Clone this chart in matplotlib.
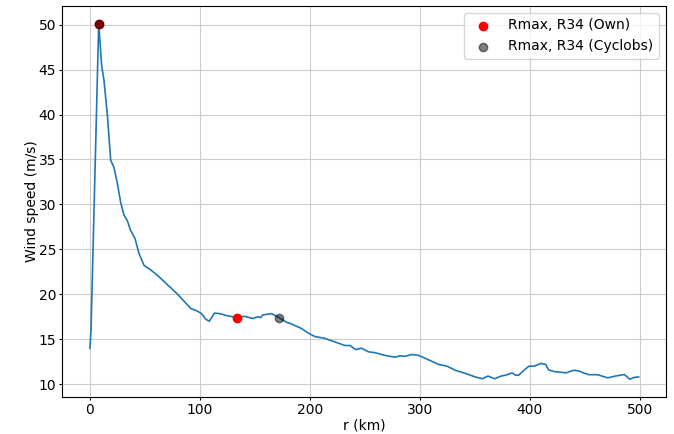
import matplotlib
matplotlib.use("Agg")
import matplotlib.pyplot as plt

# Radial wind-speed profile (r in km, wind speed in m/s)
r_km = [0, 1, 8, 10.7, 12.8, 15.9, 18.9, 21.9, 25, 28, 31, 34, 37, 41, 44.7,
        49.3, 55.4, 61.5, 67.6, 73.7, 79.8, 85.8, 91.9, 96.5, 101, 105.6,
        108.6, 113.2, 117.8, 125.4, 133.9, 140.6, 148.2, 152.8, 155, 157.4,
        165, 167.5, 172, 178.6, 183.2, 192.3, 198.4, 204.5, 213.6, 222.7,
        231.9, 236.5, 241.6, 247.1, 253.2, 259.3, 268.4, 277.5, 281.6, 286.6,
        292.7, 298.9, 308, 317.1, 324.7, 332.3, 341.4, 350.5, 356.7, 362,
        368, 374, 378, 384, 387, 390, 394.7, 399.3, 404, 410, 414.5, 417,
        422, 433, 440, 445, 450, 454, 461.6, 471, 478, 486, 491, 495, 499]
wind_ms = [14.0, 16.0, 50.1, 45.4, 43.8, 39.9, 34.9, 34.1, 32.3, 30.2, 28.8,
           28.2, 27.1, 26.2, 24.5, 23.2, 22.7, 22.1, 21.4, 20.7, 20.0, 19.2,
           18.4, 18.2, 17.9, 17.2, 17.0, 17.9, 17.85, 17.6, 17.4, 17.55, 17.3,
           17.5, 17.4, 17.7, 17.85, 17.7, 17.4, 16.9, 16.7, 16.2, 15.7, 15.3,
           15.1, 14.7, 14.3, 14.3, 13.85, 14.0, 13.6, 13.5, 13.2, 13.0, 13.15,
           13.1, 13.3, 13.2, 12.7, 12.2, 12.0, 11.55, 11.2, 10.8, 10.6, 10.9,
           10.6, 10.9, 11.0, 11.25, 11.0, 11.0, 11.55, 12.0, 12.0, 12.3, 12.2,
           11.6, 11.4, 11.26, 11.55, 11.45, 11.2, 11.05, 11.05, 10.7, 10.9,
           11.07, 10.55, 10.75, 10.8]

# Rmax and R34 estimates
own_r = [8, 134]
own_v = [50.1, 17.4]
cyclobs_r = [8, 172]
cyclobs_v = [50.1, 17.4]

fig = plt.figure(figsize=(6.74, 4.34), dpi=100)
ax = fig.add_axes([0.0927, 0.0853, 0.8955, 0.901])

ax.plot(r_km, wind_ms, color="#1f77b4", lw=1.2)
ax.scatter(own_r, own_v, color="red", s=36, zorder=3, label="Rmax, R34 (Own)")
ax.scatter(cyclobs_r, cyclobs_v, color="black", alpha=0.5, s=36, zorder=4,
           label="Rmax, R34 (Cyclobs)")

ax.tick_params(length=2.5, pad=2)
ax.set_xlabel("r (km)", labelpad=1)
ax.set_ylabel("Wind speed (m/s)", labelpad=0)
ax.grid(True, color="#cccccc", lw=0.8)
ax.legend(loc="upper right")

fig.savefig("out.png", dpi=100)
